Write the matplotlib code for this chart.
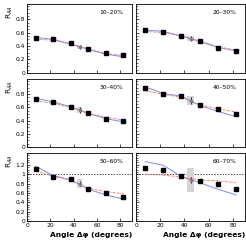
import numpy as np
import matplotlib
matplotlib.use("Agg")
import matplotlib.pyplot as plt
from matplotlib.ticker import MultipleLocator

# measured points (centres of 15 degree bins)
angle = [7.5, 22.5, 37.5, 52.5, 67.5, 82.5]
labels = ["10\u201320%", "20\u201330%", "30\u201340%", "40\u201350%", "50\u201360%", "60\u201370%"]

raa = [
    [0.52, 0.50, 0.44, 0.35, 0.29, 0.26],
    [0.64, 0.61, 0.55, 0.47, 0.37, 0.33],
    [0.73, 0.68, 0.61, 0.51, 0.43, 0.40],
    [0.89, 0.80, 0.77, 0.64, 0.57, 0.50],
    [1.12, 0.94, 0.89, 0.69, 0.60, 0.51],
    [1.13, 1.08, 0.96, 0.85, 0.79, 0.68],
]

# angle-integrated point at 45 deg, stat error, systematic box
mid_val = [0.39, 0.51, 0.56, 0.70, 0.80, 0.88]
mid_stat = [0.03, 0.04, 0.04, 0.05, 0.05, 0.07]
mid_sys = [0.03, 0.04, 0.05, 0.07, 0.10, 0.26]

# model curves read at the bin centres
blue = [
    [0.53, 0.50, 0.43, 0.35, 0.28, 0.24],
    [0.64, 0.62, 0.55, 0.47, 0.38, 0.33],
    [0.74, 0.68, 0.61, 0.51, 0.43, 0.38],
    [0.91, 0.81, 0.77, 0.63, 0.54, 0.46],
    [1.17, 0.97, 0.88, 0.68, 0.56, 0.47],
    [1.27, 1.19, 0.95, 0.82, 0.68, 0.56],
]
red = [
    [0.50, 0.49, 0.43, 0.36, 0.29, 0.26],
    [0.62, 0.60, 0.55, 0.48, 0.39, 0.34],
    [0.70, 0.66, 0.60, 0.51, 0.45, 0.41],
    [0.85, 0.80, 0.75, 0.64, 0.58, 0.53],
    [1.07, 0.95, 0.87, 0.70, 0.63, 0.58],
    [1.00, 0.98, 0.94, 0.88, 0.86, 0.82],
]

fig = plt.figure(figsize=(2.46, 2.43), dpi=100)
lefts = [0.110, 0.553]
w = [0.427, 0.443]
rows = [(0.700, 0.284), (0.395, 0.280), (0.090, 0.280)]

for i in range(6):
    r, c = i // 2, i % 2
    ax = fig.add_axes([lefts[c], rows[r][0], w[c], rows[r][1]])
    ax.bar(45, 2 * mid_sys[i], width=5, bottom=mid_val[i] - mid_sys[i],
           color="#d4d4d4", zorder=1)
    ax.errorbar(45, mid_val[i], yerr=mid_stat[i], fmt="o", ms=1.6,
                color="#808080", ecolor="black", elinewidth=0.6, capsize=0, zorder=4)
    ax.plot(angle, blue[i], "-", color="#7b8cf0", lw=0.7, zorder=2)
    ax.plot(angle, red[i], linestyle=(0, (2, 1, 0.6, 1)), color="#f07060", lw=0.7, zorder=2)
    ax.plot(angle, raa[i], "s", color="black", ms=2.4, zorder=3)

    ax.set_xlim(0, 90)
    if r < 2:
        ax.set_ylim(0, 1.03)
        ax.set_yticks([0, 0.2, 0.4, 0.6, 0.8])
        ax.set_yticklabels(["0", "0.2", "0.4", "0.6", "0.8"])
    else:
        ax.set_ylim(0, 1.45)
        ax.set_yticks([0, 0.2, 0.4, 0.6, 0.8, 1.0, 1.2])
        ax.set_yticklabels(["0", "0.2", "0.4", "0.6", "0.8", "1", "1.2"])
        ax.axhline(1.0, color="black", ls=(0, (2, 2)), lw=0.5, zorder=0)
    ax.yaxis.set_minor_locator(MultipleLocator(0.05))
    ax.set_xticks([0, 20, 40, 60, 80])
    ax.tick_params(direction="in", labelsize=4.3, length=2.5, width=0.5, pad=1.5)
    ax.tick_params(which="minor", direction="in", length=1.3, width=0.4)
    if r < 2:
        ax.tick_params(labelbottom=False)
    if c == 1:
        ax.tick_params(labelleft=False)
    for s in ax.spines.values():
        s.set_linewidth(0.6)
    ax.text(0.92, 0.88, labels[i], transform=ax.transAxes, ha="right", va="center",
            fontsize=4.3)
    if r == 2:
        ax.text(1.0, -0.2, "Angle \u0394\u03c6 (degrees)", transform=ax.transAxes,
                ha="right", va="center", fontsize=5.4, fontweight="bold")

for r in range(3):
    fig.text(0.04, rows[r][0] + rows[r][1] - 0.005, "R$_{AA}$", rotation=90,
             ha="center", va="top", fontsize=5.3)

fig.savefig("out.png", dpi=100)
